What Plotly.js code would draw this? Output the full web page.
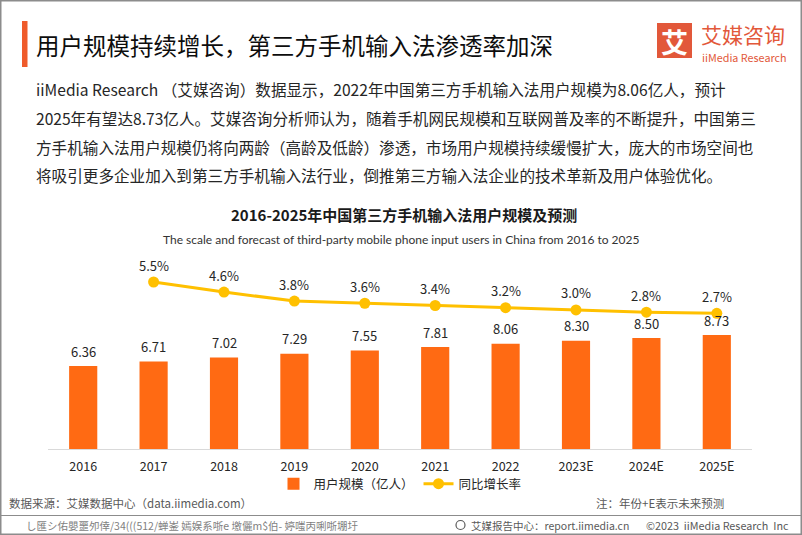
<!DOCTYPE html>
<html>
<head>
<meta charset="utf-8">
<script src="https://cdn.plot.ly/plotly-3.0.1.min.js"></script>
<style>
html,body{margin:0;padding:0;background:#fff;}
#chart{width:802px;height:535px;}
</style>
</head>
<body>
<div id="chart"></div>
<script>
// ---- data ----
const years = ['2016','2017','2018','2019','2020','2021','2022','2023E','2024E','2025E'];
const users = [6.36, 6.71, 7.02, 7.29, 7.55, 7.81, 8.06, 8.30, 8.50, 8.73];
const growthYears = ['2017','2018','2019','2020','2021','2022','2023E','2024E','2025E'];
const growth = [5.5, 4.6, 3.8, 3.6, 3.4, 3.2, 3.0, 2.8, 2.7];
const seriesNames = ['用户规模（亿人）', '同比增长率'];

const pageTitle = '用户规模持续增长，第三方手机输入法渗透率加深';
const paragraph = [
  'iiMedia Research （艾媒咨询）数据显示，2022年中国第三方手机输入法用户规模为8.06亿人，预计',
  '2025年有望达8.73亿人。艾媒咨询分析师认为，随着手机网民规模和互联网普及率的不断提升，中国第三',
  '方手机输入法用户规模仍将向两龄（高龄及低龄）渗透，市场用户规模持续缓慢扩大，庞大的市场空间也',
  '将吸引更多企业加入到第三方手机输入法行业，倒推第三方输入法企业的技术革新及用户体验优化。'
];
const chartTitle = '2016-2025年中国第三方手机输入法用户规模及预测';
const chartSubtitle = 'The scale and forecast of third-party mobile phone input users in China from 2016 to 2025';
const sourceText = '数据来源：艾媒数据中心（data.iimedia.com）';
const noteText = '注：年份+E表示未来预测';
const footerLeft = 'し匯シ佑嬰噩夘倖/34(((512/蝉崟 嫣娱系哳e 墽儷m$伯- 婷嗤丙唎哳堋圩';
const footerRight = '艾媒报告中心：report.iimedia.cn';
const footerCopy = '©2023  iiMedia Research  Inc';
const logoCn = '艾媒咨询';
const logoEn = 'iiMedia Research';

// ---- geometry ----
const W = 802, H = 535;
const M = {l: 48, r: 50, t: 250, b: 86};
const PW = W - M.l - M.r, PH = H - M.t - M.b;
const px = x => (x - M.l) / PW;
const py = y => (H - M.b - y) / PH;

const FONT = '"Noto Sans CJK SC", "Noto Sans", sans-serif';
const BAR = '#FF6A13';
const LINE = '#FFC000';

const traces = [
  {
    type: 'bar', x: years, y: users, name: seriesNames[0],
    marker: {color: BAR}, hoverinfo: 'skip'
  },
  {
    type: 'scatter', mode: 'lines+markers', x: growthYears, y: growth, yaxis: 'y2',
    name: seriesNames[1], line: {color: LINE, width: 3},
    marker: {color: LINE, size: 11}, hoverinfo: 'skip'
  }
];

const ann = [];
function txt(x, y, text, size, color, opts) {
  ann.push(Object.assign({
    xref: 'paper', yref: 'paper', x: px(x), y: py(y), text: text, showarrow: false,
    xanchor: 'left', yanchor: 'middle', font: {family: FONT, size: size, color: color}
  }, opts || {}));
}

// bar value labels (x as category index)
users.forEach((v, i) => ann.push({
  xref: 'x', yref: 'y', x: years.indexOf(years[i]), y: v, text: v.toFixed(2), showarrow: false,
  yanchor: 'middle', yshift: 15, font: {family: FONT, size: 13, color: '#262626'}
}));
// growth labels
growth.forEach((v, i) => ann.push({
  xref: 'x', yref: 'y2', x: years.indexOf(growthYears[i]), y: v, text: v.toFixed(1) + '%', showarrow: false,
  yanchor: 'middle', yshift: 17, font: {family: FONT, size: 13, color: '#262626'}
}));

// header texts
txt(34, 45, pageTitle, 23.5, '#0d0d0d');
const pY = [89.5, 118, 146.5, 175];
paragraph.forEach((line, i) => txt(34, pY[i], line, 15.6, '#262626'));
txt(404, 214, '<b>' + chartTitle + '</b>', 15, '#1a1a1a', {xanchor: 'center'});
txt(401, 239, chartSubtitle, 12, '#333333', {xanchor: 'center', font: {family: 'Lato, "Noto Sans", sans-serif', size: 12, color: '#333333'}});

// logo
txt(674.5, 41, '<b>艾</b>', 27, '#ffffff', {xanchor: 'center'});
txt(699, 34, logoCn, 21, '#E2583A');
txt(700, 57, logoEn, 10.8, '#E2583A');

// source / note / footer
txt(7, 503, sourceText, 11.5, '#595959');
txt(594, 503, noteText, 11.5, '#595959');
txt(24, 525, footerLeft, 10.5, '#7f7f7f');
txt(469, 525, footerRight, 10.5, '#595959');
txt(644, 525, footerCopy, 10.8, '#595959');

const shapes = [
  {type: 'rect', xref: 'paper', yref: 'paper', x0: px(0.75), x1: px(801.25), y0: py(0.75), y1: py(534.25),
   line: {color: '#8c8c8c', width: 1.5}, fillcolor: 'rgba(0,0,0,0)'},
  {type: 'line', xref: 'paper', yref: 'paper', x0: px(0), x1: px(802), y0: py(515.5), y1: py(515.5),
   line: {color: '#8c8c8c', width: 1.2}},
  {type: 'rect', xref: 'paper', yref: 'paper', x0: px(22), x1: px(27.5), y0: py(21), y1: py(67),
   line: {width: 0}, fillcolor: '#EF5B2B'},
  {type: 'rect', xref: 'paper', yref: 'paper', x0: px(657), x1: px(692), y0: py(23), y1: py(58),
   line: {width: 0}, fillcolor: '#E2583A'},
  {type: 'circle', xref: 'paper', yref: 'paper', x0: px(456), x1: px(465), y0: py(520.5), y1: py(529.5),
   line: {color: '#595959', width: 1.2}, fillcolor: 'rgba(0,0,0,0)'}
];

const layout = {
  width: W, height: H,
  margin: M,
  paper_bgcolor: '#ffffff', plot_bgcolor: '#ffffff',
  font: {family: FONT, color: '#262626'},
  bargap: 0.6,
  showlegend: true,
  legend: {
    orientation: 'h', x: 0.5, xanchor: 'center', y: py(484), yanchor: 'middle',
    font: {family: FONT, size: 12.5, color: '#262626'}, bgcolor: 'rgba(0,0,0,0)'
  },
  xaxis: {
    type: 'category', categoryorder: 'array', categoryarray: years,
    range: [-0.5, years.length - 0.5], autorange: false,
    showgrid: false, zeroline: false,
    showline: true, linecolor: '#d9d9d9', linewidth: 1,
    ticks: '', ticklabelstandoff: 6, tickfont: {family: FONT, size: 12.5, color: '#262626'},
    fixedrange: true
  },
  yaxis: {range: [0, PH / 13.05], autorange: false, visible: false, showgrid: false, zeroline: false, fixedrange: true},
  yaxis2: {range: [(343.5 - 449) / 11.18, (343.5 - 250) / 11.18], autorange: false, overlaying: 'y', side: 'right',
           visible: false, showgrid: false, zeroline: false, fixedrange: true},
  annotations: ann,
  shapes: shapes
};

Plotly.newPlot('chart', traces, layout, {displayModeBar: false, staticPlot: true});
</script>
</body>
</html>
